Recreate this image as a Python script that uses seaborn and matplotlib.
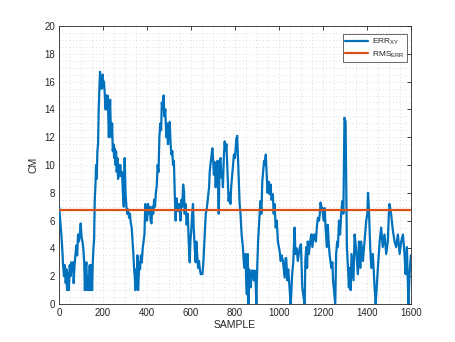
import matplotlib
matplotlib.use("Agg")
import matplotlib.pyplot as plt
import seaborn as sns
import pandas as pd
from matplotlib.ticker import MultipleLocator

sample = [0, 5, 10, 14, 18, 22, 26, 30, 33, 36, 40, 44, 48, 52, 56, 60, 64, 66, 70, 74, 78, 82, 86, 90, 94, 98,
          102, 106, 110, 114, 117, 120, 124, 127, 131, 135, 139, 142, 146, 150, 153, 156, 159, 162, 165, 168, 171,
          174, 177, 180, 183, 186, 189, 192, 195, 198, 201, 204, 208, 211, 214, 217, 220, 223, 226, 229, 232, 235,
          238, 241, 244, 247, 250, 253, 256, 259, 262, 265, 268, 271, 274, 278, 282, 286, 290, 294, 298, 302, 306,
          310, 314, 318, 322, 326, 330, 334, 338, 341, 344, 347, 350, 353, 356, 359, 362, 365, 368, 372, 376, 380,
          384, 388, 392, 396, 400, 404, 408, 412, 416, 420, 424, 428, 432, 436, 440, 444, 448, 452, 456, 460, 464,
          467, 471, 475, 479, 483, 487, 491, 495, 499, 503, 507, 511, 515, 518, 522, 526, 530, 534, 538, 541, 545,
          548, 552, 556, 560, 564, 568, 571, 575, 580, 585, 590, 594, 597, 601, 605, 609, 612, 617, 621, 624, 628,
          632, 636, 640, 644, 647, 652, 656, 659, 663, 667, 672, 676, 682, 685, 688, 692, 697, 700, 704, 708, 712,
          716, 720, 726, 730, 734, 738, 742, 745, 749, 753, 757, 761, 765, 771, 775, 779, 783, 786, 790, 795, 800,
          806, 810, 814, 821, 825, 830, 836, 840, 844, 848, 851, 854, 858, 861, 864, 868, 872, 876, 882, 886, 890,
          894, 897, 901, 905, 912, 916, 920, 924, 928, 932, 935, 940, 944, 948, 953, 958, 962, 966, 972, 976, 980,
          985, 990, 995, 1003, 1008, 1012, 1018, 1022, 1026, 1030, 1033, 1038, 1042, 1048, 1053, 1056, 1060, 1065,
          1071, 1075, 1080, 1086, 1090, 1095, 1100, 1106, 1112, 1117, 1120, 1124, 1128, 1131, 1136, 1142, 1147,
          1152, 1158, 1162, 1168, 1172, 1177, 1182, 1186, 1189, 1193, 1197, 1203, 1208, 1212, 1218, 1222, 1226,
          1230, 1238, 1243, 1246, 1250, 1256, 1260, 1265, 1268, 1273, 1278, 1283, 1288, 1293, 1298, 1303, 1306,
          1309, 1314, 1318, 1322, 1326, 1330, 1339, 1344, 1350, 1359, 1364, 1370, 1374, 1382, 1389, 1397, 1402,
          1405, 1409, 1415, 1420, 1427, 1435, 1440, 1450, 1458, 1465, 1472, 1480, 1488, 1495, 1500, 1503, 1510,
          1518, 1526, 1533, 1541, 1549, 1556, 1564, 1571, 1576, 1582, 1589, 1594, 1600]

err_xy = [7.0, 6.0, 5.0, 4.0, 2.8, 2.0, 2.8, 1.5, 2.5, 1.0, 2.2, 1.0, 2.8, 2.0, 3.0, 2.3, 3.0, 1.5, 2.8, 3.5, 4.2,
          3.5, 5.0, 4.5, 5.0, 5.8, 4.8, 4.5, 4.0, 3.0, 1.0, 2.5, 3.0, 1.0, 2.0, 1.0, 2.8, 1.0, 2.8, 1.0, 3.0, 4.0,
          4.6, 7.5, 8.5, 10.0, 9.0, 11.0, 11.5, 14.0, 15.5, 16.7, 15.5, 16.0, 15.5, 16.5, 15.8, 16.0, 15.0, 14.0,
          15.0, 14.0, 15.0, 14.0, 12.0, 13.5, 14.7, 12.5, 12.0, 13.0, 11.0, 11.5, 10.5, 11.2, 10.0, 11.0, 9.5,
          10.5, 9.0, 10.0, 9.2, 10.0, 9.2, 9.5, 8.0, 7.0, 10.5, 8.0, 7.0, 6.5, 6.8, 6.2, 6.5, 5.8, 5.5, 4.5, 3.5,
          2.5, 2.0, 1.0, 2.5, 1.2, 3.5, 1.0, 2.0, 3.0, 2.5, 3.5, 3.0, 4.0, 4.5, 5.0, 7.2, 6.2, 6.0, 7.2, 6.5, 7.0,
          6.0, 5.8, 7.0, 6.5, 7.5, 7.0, 8.0, 8.5, 10.0, 9.5, 12.0, 13.0, 12.5, 14.5, 14.0, 15.0, 13.5, 14.0, 12.0,
          13.0, 11.5, 12.5, 13.1, 11.5, 10.75, 11.0, 10.0, 10.3, 7.9, 6.0, 7.6, 6.8, 6.7, 7.2, 6.9, 6.0, 7.5, 7.0,
          8.6, 8.1, 6.5, 7.2, 5.7, 6.5, 4.3, 3.0, 4.5, 5.3, 6.5, 7.2, 5.5, 4.0, 3.0, 4.5, 3.5, 2.6, 3.1, 2.5, 2.15,
          2.15, 2.15, 3.0, 4.0, 5.5, 6.5, 6.9, 7.5, 8.4, 9.5, 10.0, 10.5, 11.2, 10.5, 9.3, 10.2, 8.4, 9.5, 10.3,
          6.5, 10.3, 10.5, 9.1, 9.5, 8.4, 10.5, 11.7, 11.0, 11.5, 9.8, 7.4, 8.0, 7.2, 8.5, 9.1, 9.8, 10.75, 10.5,
          11.9, 12.1, 10.3, 7.2, 6.5, 5.0, 4.1, 3.0, 2.6, 3.6, 1.5, 0.7, 3.6, 0.0, 2.5, 2.15, 1.2, 2.4, 2.4, 1.7,
          2.4, 1.5, 0.0, 2.6, 4.5, 6.5, 7.4, 6.5, 8.8, 9.5, 10.3, 10.0, 10.75, 9.3, 8.0, 8.8, 7.9, 8.6, 7.5, 7.9,
          6.5, 7.2, 5.5, 6.0, 4.5, 3.8, 3.1, 3.5, 3.1, 2.5, 1.9, 3.3, 3.3, 1.7, 2.5, 1.2, 0.0, 0.7, 2.15, 3.0, 5.5,
          3.6, 4.0, 3.1, 3.6, 4.1, 4.3, 1.2, 0.5, 0.0, 3.1, 4.1, 2.6, 4.5, 3.6, 4.5, 5.0, 4.1, 5.0, 5.0, 4.5, 5.5,
          6.2, 6.0, 6.5, 7.3, 7.0, 6.9, 6.0, 6.9, 5.5, 4.1, 5.7, 4.5, 3.6, 2.6, 3.0, 1.7, 1.0, 0.0, 3.6, 4.5, 4.1,
          6.0, 5.0, 6.5, 7.4, 6.5, 13.4, 13.1, 8.8, 4.1, 2.6, 1.2, 2.6, 1.0, 3.6, 1.7, 5.0, 4.1, 2.15, 4.5, 2.6,
          4.5, 3.1, 4.5, 6.0, 6.5, 8.0, 6.9, 4.1, 2.6, 3.6, 1.2, 0.0, 2.6, 4.5, 5.5, 4.1, 5.0, 3.6, 4.5, 6.5, 7.2,
          6.5, 5.3, 4.5, 4.1, 5.0, 3.6, 4.5, 5.0, 3.6, 2.15, 4.1, 0.0, 2.15, 3.5]

rms_err = 6.75
x_range = [0, 1600]
x_ticks = [0, 200, 400, 600, 800, 1000, 1200, 1400, 1600]
y_ticks = [0, 2, 4, 6, 8, 10, 12, 14, 16, 18, 20]

sns.set_style("white")
plt.rcParams['font.family'] = ['Liberation Sans', 'DejaVu Sans']
plt.rcParams['mathtext.fontset'] = 'custom'
plt.rcParams['mathtext.rm'] = 'Liberation Sans'

fig = plt.figure(figsize=(4.55, 3.42), dpi=100)
ax = fig.add_axes([0.130, 0.111, 0.773, 0.813])

df = pd.DataFrame({"SAMPLE": sample, "ERR": err_xy})
sns.lineplot(data=df, x="SAMPLE", y="ERR", ax=ax, color="#0072BD", linewidth=1.6,
             estimator=None, sort=False, label=r"ERR$_{\mathrm{XY}}$", zorder=3)
df_rms = pd.DataFrame({"SAMPLE": x_range, "RMS": [rms_err, rms_err]})
sns.lineplot(data=df_rms, x="SAMPLE", y="RMS", ax=ax, color="#D95319", linewidth=1.6,
             estimator=None, label=r"RMS$_{\mathrm{ERR}}$", zorder=4)

ax.set_xlim(0, 1600)
ax.set_ylim(0, 20)
ax.set_xticks(x_ticks)
ax.set_yticks(y_ticks)
ax.xaxis.set_minor_locator(MultipleLocator(50))
ax.yaxis.set_minor_locator(MultipleLocator(0.5))
ax.grid(which='both', color='#d4d4d4', linestyle=(0, (1, 3)), linewidth=0.6, zorder=0)
ax.set_axisbelow(True)
ax.tick_params(which='major', direction='in', length=3, width=0.6, colors='#262626',
               labelsize=7, top=True, right=True, labelcolor='#262626', pad=3)
ax.tick_params(which='minor', length=0, top=True, right=True)
for s in ax.spines.values():
    s.set_color('#262626')
    s.set_linewidth(0.6)

ax.set_xlabel("SAMPLE", fontsize=7.5, color='#262626', labelpad=1)
ax.set_ylabel("CM", fontsize=7.5, color='#262626', labelpad=4)

leg = ax.legend(loc='upper right', fontsize=6, frameon=True, fancybox=False,
                handlelength=2.7, borderpad=0.3, labelspacing=0.2, handletextpad=0.5,
                borderaxespad=0.0, bbox_to_anchor=(0.99, 0.97))
leg.get_frame().set_edgecolor('#262626')
leg.get_frame().set_linewidth(0.6)

fig.savefig("out.png", dpi=100)
